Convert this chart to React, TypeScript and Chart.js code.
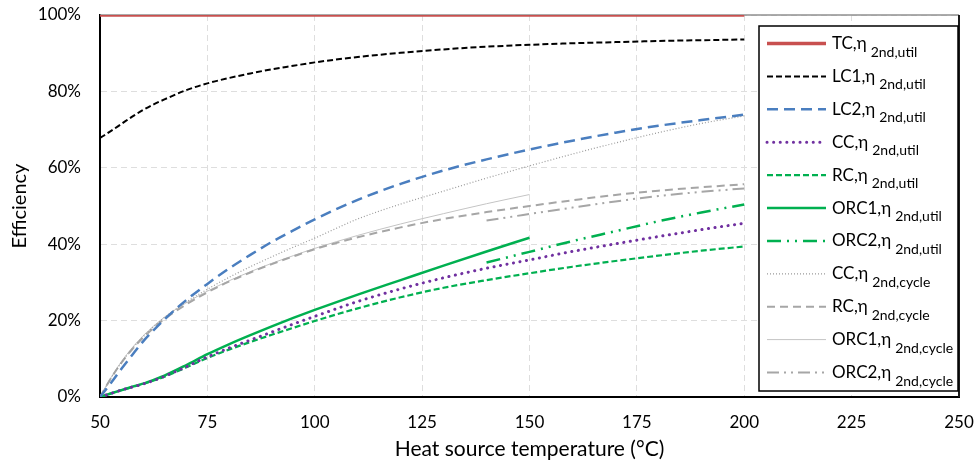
import React, { useEffect, useRef } from "react";
import { Chart, registerables } from "chart.js";

Chart.register(...registerables);

// ---- data (efficiency in %) ----
const T_MAIN = [50, 52.5, 55, 57.5, 60, 62.5, 65, 70, 75, 80, 85, 90, 95, 100, 110, 120, 130, 140, 150, 160, 170, 180, 190, 200];
const T_ORC1 = [50, 52.5, 55, 57.5, 60, 62.5, 65, 70, 75, 80, 85, 90, 95, 100, 110, 120, 130, 140, 150];
const T_ORC2 = [140, 150, 160, 170, 180, 190, 200];
const T_TC = [50, 200];

const TC_UTIL = [100, 100];
const LC1_UTIL = [67.8, 69.6, 71.5, 73.4, 75.1, 76.6, 77.9, 80.3, 82.1, 83.5, 84.7, 85.8, 86.7, 87.6, 89.0, 90.1, 91.0, 91.7, 92.2, 92.6, 92.9, 93.2, 93.4, 93.6];
const LC2_UTIL = [0, 3.6, 7.4, 11.0, 14.5, 17.5, 20.3, 25.3, 29.6, 33.6, 37.2, 40.6, 43.6, 46.5, 51.6, 55.8, 59.3, 62.2, 64.8, 67.1, 69.2, 71.0, 72.5, 73.9];
const CC_UTIL = [0, 0.9, 1.8, 2.6, 3.4, 4.3, 5.4, 7.9, 10.5, 12.8, 14.9, 17.0, 19.1, 21.1, 25.0, 28.3, 31.2, 33.7, 35.9, 38.1, 40.1, 42.0, 43.8, 45.5];
const RC_UTIL = [0, 0.9, 1.8, 2.6, 3.4, 4.3, 5.3, 7.7, 10.2, 12.4, 14.4, 16.3, 18.1, 19.9, 23.2, 26.1, 28.6, 30.6, 32.4, 34.1, 35.6, 37.0, 38.3, 39.4];
const ORC1_UTIL = [0, 0.9, 1.8, 2.7, 3.5, 4.5, 5.6, 8.3, 11.2, 13.8, 16.2, 18.5, 20.7, 22.8, 26.8, 30.6, 34.4, 38.1, 41.7];
const ORC2_UTIL = [35.2, 38.0, 40.8, 43.4, 46.0, 48.3, 50.4];
const CC_CYCLE = [0, 4.8, 9.0, 12.6, 15.7, 18.4, 20.8, 24.8, 28.2, 31.3, 34.1, 36.7, 39.2, 41.6, 46.6, 50.5, 53.9, 57.3, 60.5, 63.6, 66.5, 69.2, 71.6, 73.6];
const RC_CYCLE = [0, 4.8, 9.0, 12.5, 15.5, 18.1, 20.4, 24.2, 27.4, 30.2, 32.6, 34.8, 36.8, 38.7, 41.8, 44.4, 46.6, 48.4, 50.0, 51.5, 52.9, 54.0, 54.9, 55.7];
const ORC1_CYCLE = [0, 5.0, 9.3, 12.9, 16.0, 18.6, 20.9, 24.6, 27.7, 30.4, 32.8, 35.0, 37.0, 38.9, 42.3, 45.3, 48.0, 50.6, 53.0];
const ORC2_CYCLE = [46.2, 47.9, 49.6, 51.2, 52.6, 53.7, 54.6];

const X_TICKS = [50, 75, 100, 125, 150, 175, 200, 225, 250];
const Y_TICKS = [0, 20, 40, 60, 80, 100];

const NAMES = ["TC", "LC1", "LC2", "CC", "RC", "ORC1", "ORC2", "CC", "RC", "ORC1", "ORC2"];
const SUBS = ["2nd,util", "2nd,util", "2nd,util", "2nd,util", "2nd,util", "2nd,util", "2nd,util", "2nd,cycle", "2nd,cycle", "2nd,cycle", "2nd,cycle"];

const FONT = "Lato, 'Open Sans', sans-serif";

const pts = (xs: number[], ys: number[]) => xs.map((x, i) => ({ x, y: ys[i] }));

const legendPlugin = {
  id: "customFrameLegend",
  beforeDatasetsDraw(chart: any) {
    const { ctx, chartArea: a } = chart;
    ctx.save();
    ctx.strokeStyle = "#8f8f8f";
    ctx.lineWidth = 1.5;
    ctx.beginPath();
    ctx.moveTo(a.left, a.top);
    ctx.lineTo(a.right, a.top);
    ctx.stroke();
    ctx.strokeStyle = "#1a1a1a";
    ctx.lineWidth = 2;
    ctx.beginPath();
    ctx.moveTo(a.right, a.top);
    ctx.lineTo(a.right, a.bottom);
    ctx.stroke();
    ctx.restore();
  },
  afterDraw(chart: any) {
    const { ctx, chartArea: a } = chart;
    const left = a.right - 200;
    const top = a.top + 11;
    const right = a.right - 1;
    const bottom = a.bottom - 6;
    ctx.save();
    ctx.fillStyle = "#ffffff";
    ctx.fillRect(left, top, right - left, bottom - top);
    ctx.strokeStyle = "#000";
    ctx.lineWidth = 1.5;
    ctx.strokeRect(left, top, right - left, bottom - top);
    const ds = chart.data.datasets;
    for (let i = 0; i < ds.length; i++) {
      const d = ds[i];
      const y = top + 17.5 + i * 32.9;
      ctx.save();
      ctx.beginPath();
      ctx.strokeStyle = d.borderColor;
      ctx.lineWidth = d.borderWidth;
      ctx.lineCap = d.borderCapStyle || "butt";
      ctx.setLineDash(d.borderDash || []);
      ctx.moveTo(left + 8, y);
      ctx.lineTo(left + 67, y);
      ctx.stroke();
      ctx.restore();
      ctx.fillStyle = "#000";
      ctx.textBaseline = "alphabetic";
      ctx.textAlign = "left";
      ctx.font = `17px ${FONT}`;
      const main = NAMES[i] + ",η";
      ctx.fillText(main, left + 73, y + 5.5);
      const w = ctx.measureText(main).width;
      ctx.font = `14px ${FONT}`;
      ctx.fillText(SUBS[i], left + 73 + w + 4, y + 13);
    }
    ctx.restore();
  },
};

export default function App() {
  const ref = useRef<HTMLCanvasElement>(null);
  useEffect(() => {
    if (!ref.current) return;
    const green = "#00b050";
    const gray = "#a6a6a6";
    const chart = new Chart(ref.current, {
      type: "line",
      data: {
        datasets: [
          { label: "TC", data: pts(T_TC, TC_UTIL), borderColor: "#c8504f", borderWidth: 3.5 },
          { label: "LC1", data: pts(T_MAIN, LC1_UTIL), borderColor: "#000000", borderWidth: 2, borderDash: [6, 3] },
          { label: "LC2", data: pts(T_MAIN, LC2_UTIL), borderColor: "#4a7ebf", borderWidth: 2.5, borderDash: [11, 6] },
          { label: "CC", data: pts(T_MAIN, CC_UTIL), borderColor: "#7030a0", borderWidth: 3, borderDash: [0.1, 6.5], borderCapStyle: "round" },
          { label: "RC", data: pts(T_MAIN, RC_UTIL), borderColor: green, borderWidth: 2.2, borderDash: [6, 3] },
          { label: "ORC1", data: pts(T_ORC1, ORC1_UTIL), borderColor: green, borderWidth: 2.5 },
          { label: "ORC2", data: pts(T_ORC2, ORC2_UTIL), borderColor: green, borderWidth: 2.5, borderDash: [14, 6, 2, 6, 2, 6] },
          { label: "CC cycle", data: pts(T_MAIN, CC_CYCLE), borderColor: "#9a9a9a", borderWidth: 1.2, borderDash: [1, 2] },
          { label: "RC cycle", data: pts(T_MAIN, RC_CYCLE), borderColor: gray, borderWidth: 2, borderDash: [8, 5] },
          { label: "ORC1 cycle", data: pts(T_ORC1, ORC1_CYCLE), borderColor: "#c4c4c4", borderWidth: 1 },
          { label: "ORC2 cycle", data: pts(T_ORC2, ORC2_CYCLE), borderColor: gray, borderWidth: 2, borderDash: [12, 5, 2, 5, 2, 5] },
        ].map((d: any) => ({ ...d, pointRadius: 0, pointHoverRadius: 0, fill: false, cubicInterpolationMode: "monotone" })),
      },
      options: {
        animation: false,
        responsive: false,
        maintainAspectRatio: false,
        layout: { padding: { top: 15, right: 17, left: 0, bottom: 0 } },
        plugins: { legend: { display: false }, tooltip: { enabled: false } },
        scales: {
          x: {
            type: "linear",
            min: 50,
            max: 250,
            afterFit: (s: any) => { s.height = 67; s.paddingLeft = 0; s.paddingRight = 0; },
            afterBuildTicks: (s: any) => { s.ticks = X_TICKS.map((v) => ({ value: v })); },
            ticks: { color: "#000", font: { family: FONT, size: 17 }, padding: 15, maxRotation: 0 },
            grid: { color: "#dedede", lineWidth: 1, drawTicks: false },
            border: { display: true, color: "#000", width: 2, dash: [6, 4] },
            title: { display: true, text: "Heat source temperature (°C)", color: "#000", font: { family: FONT, size: 21 }, padding: { top: 0, bottom: 2 } },
          },
          y: {
            min: 0,
            max: 100,
            afterFit: (s: any) => { s.width = 100; s.paddingTop = 0; s.paddingBottom = 0; },
            afterBuildTicks: (s: any) => { s.ticks = Y_TICKS.map((v) => ({ value: v })); },
            ticks: { color: "#000", font: { family: FONT, size: 17 }, padding: 19, callback: (v: any) => v + "%" },
            grid: { color: "#dedede", lineWidth: 1, drawTicks: false },
            border: { display: true, color: "#000", width: 2, dash: [6, 4] },
            title: { display: true, text: "Efficiency", color: "#000", font: { family: FONT, size: 20 }, padding: { top: 8, bottom: 0 } },
          },
        },
      },
      plugins: [legendPlugin],
    } as any);
    return () => chart.destroy();
  }, []);
  return (
    <div style={{ position: "fixed", left: 0, top: 0, width: 976, height: 464, background: "#fff" }}>
      <canvas ref={ref} width={976} height={464} style={{ display: "block", width: 976, height: 464 }} />
    </div>
  );
}
